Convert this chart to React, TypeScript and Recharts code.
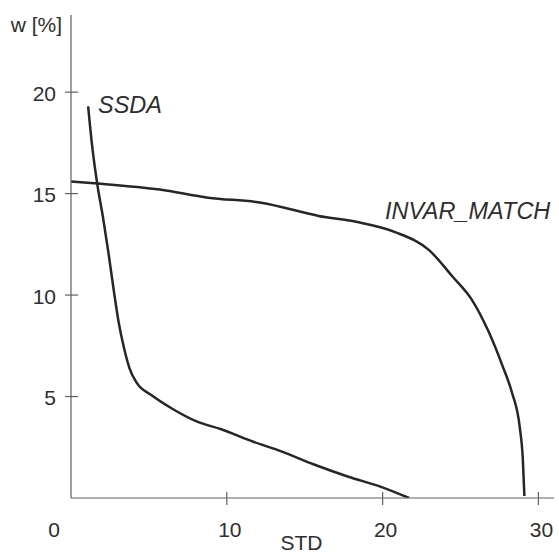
import { LineChart, Line, XAxis, YAxis, ReferenceDot } from 'recharts';

// STD -> w [%] readings, one pair of arrays per curve
const ssdaStd = [1.1, 1.35, 1.7, 2.06, 2.4, 2.75, 3.05, 3.4, 3.75, 4.2, 5.2, 6.5, 8.1, 9.6, 11.7, 13.5, 15.6, 17.8, 19.9, 21.7];
const ssdaW = [19.3, 17.4, 15.4, 13.8, 12.1, 10.2, 8.7, 7.4, 6.4, 5.7, 5.05, 4.4, 3.76, 3.4, 2.77, 2.3, 1.65, 1.05, 0.55, 0];

const invarStd = [0, 1.7, 5.7, 8.8, 12.2, 15.9, 18.6, 20.8, 23, 24.5, 25.7, 26.8, 27.7, 28.3, 28.8, 29.0, 29.1];
const invarW = [15.6, 15.5, 15.2, 14.8, 14.55, 13.9, 13.56, 13.1, 12.2, 10.9, 9.8, 8.2, 6.5, 5.2, 3.5, 1.9, 0.1];

const xTicks = [0, 10, 20, 30];
const yTicks = [5, 10, 15, 20];

// curve names and where their labels sit (data coords)
const seriesNames = ['SSDA', 'INVAR_MATCH'];
const labelStd = [1.73, 20.15];
const labelW = [18.95, 13.75];

const FONT = '"Liberation Sans", Arial, sans-serif';
const INK = '#2e2e2e';
const LINE = '#262626';
const AXIS = '#606060';

const ssdaData = ssdaStd.map((s, i) => ({ std: s, w: ssdaW[i] }));
const invarData = invarStd.map((s, i) => ({ std: s, w: invarW[i] }));

const XTick = (props: any) => {
  const { x, y, payload } = props;
  const v = payload.value;
  return (
    <g>
      {v !== 0 && <line x1={x} x2={x} y1={y - 6} y2={y + 7} stroke={AXIS} strokeWidth={1.2} />}
      <text x={x + (v === 0 ? -17 : 3)} y={y + 39} textAnchor="middle" fontSize={21} fontFamily={FONT} fill={INK}>
        {v}
      </text>
    </g>
  );
};

const YTick = (props: any) => {
  const { x, y, payload } = props;
  return (
    <g>
      <line x1={x - 6} x2={x + 7} y1={y} y2={y} stroke={AXIS} strokeWidth={1.2} />
      <text x={x - 15} y={y + 1} textAnchor="end" dominantBaseline="central" fontSize={21} fontFamily={FONT} fill={INK}>
        {payload.value}
      </text>
    </g>
  );
};

const curveLabel = (name: string) => (p: any) => (
  <text x={p.cx} y={p.cy} fontSize={23.5} fontStyle="italic" fontFamily={FONT} fill={INK}>
    {name}
  </text>
);

export default function App() {
  return (
    <div style={{ position: 'absolute', left: 0, top: 0, width: 559, height: 554, background: '#fff' }}>
      <LineChart width={559} height={554} margin={{ top: 15, right: 5, left: 0, bottom: 0 }}>
        <XAxis
          dataKey="std"
          type="number"
          domain={[0, 31]}
          ticks={xTicks}
          interval={0}
          height={56}
          tickSize={0}
          tickMargin={0}
          tick={<XTick />}
          axisLine={{ stroke: AXIS, strokeWidth: 1.2 }}
          allowDataOverflow
          label={(p: any) => {
            const vb = p.viewBox;
            return (
              <text x={vb.x + vb.width / 2 - 11} y={vb.y + 52} textAnchor="middle" fontSize={21} fontFamily={FONT} fill={INK}>
                STD
              </text>
            );
          }}
        />
        <YAxis
          type="number"
          domain={[0, 23.8]}
          ticks={yTicks}
          interval={0}
          width={71}
          tickSize={0}
          tickMargin={0}
          tick={<YTick />}
          axisLine={{ stroke: AXIS, strokeWidth: 1.2 }}
          allowDataOverflow
          label={(p: any) => {
            const vb = p.viewBox;
            return (
              <text x={vb.x + vb.width - 9} y={vb.y + 17} textAnchor="end" fontSize={21} fontFamily={FONT} fill={INK}>
                w [%]
              </text>
            );
          }}
        />
        <Line
          data={ssdaData}
          dataKey="w"
          type="monotone"
          stroke={LINE}
          strokeWidth={2.5}
          dot={false}
          isAnimationActive={false}
        />
        <Line
          data={invarData}
          dataKey="w"
          type="monotone"
          stroke={LINE}
          strokeWidth={2.5}
          dot={false}
          isAnimationActive={false}
        />
        {seriesNames.map((name, i) => (
          <ReferenceDot key={name} x={labelStd[i]} y={labelW[i]} r={1} shape={curveLabel(name)} />
        ))}
      </LineChart>
    </div>
  );
}
